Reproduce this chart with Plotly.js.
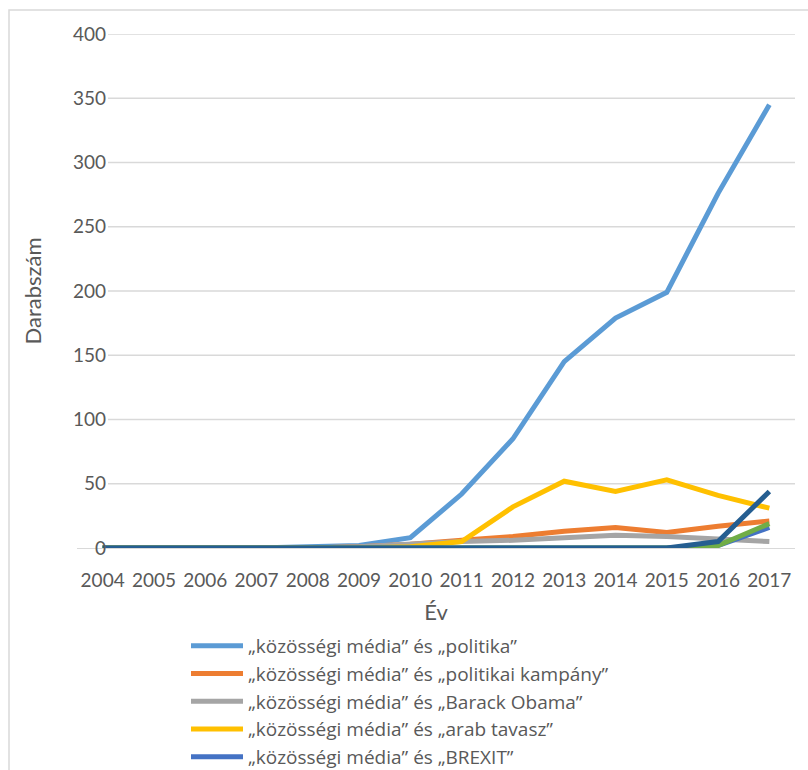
<!DOCTYPE html>
<html>
<head>
<meta charset="utf-8">
<script src="https://cdn.plot.ly/plotly-3.0.1.min.js"></script>
<style>html,body{margin:0;padding:0;background:#fff;}#chart{width:808px;height:770px;}</style>
</head>
<body>
<div id="chart"></div>
<script>
var years = ["2004","2005","2006","2007","2008","2009","2010","2011","2012","2013","2014","2015","2016","2017"];
var politika   = [0,0,0,0,1,2,8,42,85,145,179,199,276,345];
var kampany    = [0,0,0,0,0,1,3,6,9,13,16,12,17,21];
var obama      = [0,0,0,0,0,1,3,5,6,8,10,9,7,5];
var arab       = [0,0,0,0,0,0,1,5,32,52,44,53,41,31];
var brexit     = [0,0,0,0,0,0,0,0,0,0,0,0,2,16];
var series6    = [0,0,0,0,0,0,0,0,0,0,0,0,2,19];
var series7    = [0,0,0,0,0,0,0,0,0,0,0,0,5,44];
var names = ["„közösségi média” és „politika”",
             "„közösségi média” és „politikai kampány”",
             "„közösségi média” és „Barack Obama”",
             "„közösségi média” és „arab tavasz”",
             "„közösségi média” és „BREXIT”",
             "6. adatsor",
             "7. adatsor"];
var yTicks = [0,50,100,150,200,250,300,350,400];

var values = [politika,kampany,obama,arab,brexit,series6,series7];
var colors = ["#5B9BD5","#ED7D31","#A5A5A5","#FFC000","#4472C4","#70AD47","#255E91"];
var traces = values.map(function(v,i){
  return {x: years, y: v, type: 'scatter', mode: 'lines', name: names[i],
    legendgroup: 'g'+i, showlegend: i < 5,
    line: {color: colors[i], width: 5, shape: 'linear'}};
});

var L = 77, R = 795, T = 34, B = 548, W = 808, H = 770;
var pw = R - L, ph = B - T;
function px(x){ return (x - L)/pw; }
function py(y){ return (B - y)/ph; }

var shapes = yTicks.filter(function(t){return t>0;}).map(function(t){
  return {type:'line', xref:'paper', yref:'y', x0: px(108), x1: 1, y0: t, y1: t,
    line:{color:'#d9d9d9', width:1.3}, layer:'below'};
});
shapes.push({type:'rect', xref:'paper', yref:'paper', x0: px(9), x1: px(830), y0: py(800), y1: py(10),
  line:{color:'#d9d9d9', width:1.5}, layer:'below'});

var font = {family: 'Lato, "Open Sans", sans-serif', size: 19, color: '#595959'};
var bigFont = {family: 'Lato, "Open Sans", sans-serif', size: 22, color: '#595959'};
var legFont = {family: '"Open Sans", Lato, sans-serif', size: 19, color: '#595959'};
var layout = {
  width: W, height: H,
  margin: {l: L, r: W - R, t: T, b: H - B, pad: 0, autoexpand: false},
  paper_bgcolor: '#fff', plot_bgcolor: 'rgba(0,0,0,0)',
  font: font,
  showlegend: true,
  xaxis: {type: 'category', range: [-0.5, 13.5], showgrid: false, zeroline: false,
    showline: true, linecolor: '#d9d9d9', linewidth: 1.3, ticks: '',
    tickfont: font, ticklabelstandoff: 15,
    title: {text: 'Év', font: bigFont, standoff: 14}},
  yaxis: {range: [0, 400], tickvals: yTicks, ticktext: yTicks.map(String), showgrid: false,
    zeroline: false, showline: false, ticks: '', tickfont: font, ticklabelstandoff: -30,
    title: {text: 'Darabszám', font: bigFont, standoff: 25}},
  legend: {x: px(186), xanchor: 'left', xref: 'paper', y: 1 - 627/H, yanchor: 'top', yref: 'container',
    font: legFont, bgcolor: 'rgba(0,0,0,0)', tracegroupgap: 0, itemwidth: 52},
  shapes: shapes
};
Plotly.newPlot('chart', traces, layout, {staticPlot: true});
</script>
</body>
</html>
